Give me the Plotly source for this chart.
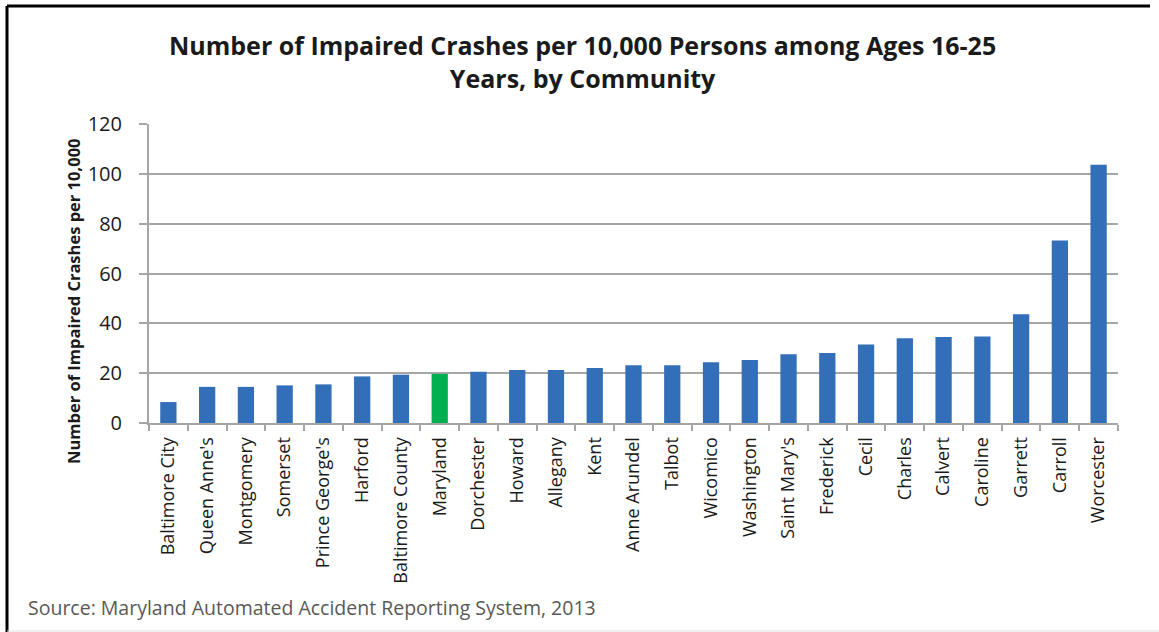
import plotly.graph_objects as go

# Impaired crashes per 10,000 persons aged 16-25, by community (2013)
communities = [
    "Baltimore City", "Queen Anne's", "Montgomery", "Somerset", "Prince George's",
    "Harford", "Baltimore County", "Maryland", "Dorchester", "Howard", "Allegany",
    "Kent", "Anne Arundel", "Talbot", "Wicomico", "Washington", "Saint Mary's",
    "Frederick", "Cecil", "Charles", "Calvert", "Caroline", "Garrett", "Carroll",
    "Worcester",
]
rates = [
    8.4, 14.5, 14.5, 15.1, 15.5,
    18.7, 19.4, 19.7, 20.6, 21.3, 21.3,
    22.1, 23.2, 23.2, 24.4, 25.3, 27.6,
    28.1, 31.5, 34.0, 34.5, 34.7, 43.6, 73.2,
    103.6,
]
y_ticks = [0, 20, 40, 60, 80, 100, 120]
title_lines = [
    "Number of Impaired Crashes per 10,000 Persons among Ages 16-25",
    "Years, by Community",
]

state_name = "Maryland"
bar_colors = ["#00B050" if c == state_name else "#336EB8" for c in communities]

FONT = "Open Sans"
W, H = 1159, 632
L, R, T, B = 149, 41, 124, 209
pw, ph = W - L - R, H - T - B


def px_x(px):
    return (px - L) / pw


def px_y(py):
    return (H - B - py) / ph


fig = go.Figure(
    go.Bar(
        x=communities,
        y=rates,
        marker=dict(color=bar_colors, line=dict(width=0)),
        width=0.42,
    )
)

fig.update_layout(
    width=W,
    height=H,
    margin=dict(l=L, r=R, t=T, b=B),
    paper_bgcolor="white",
    plot_bgcolor="white",
    showlegend=False,
    font=dict(family=FONT, color="#1a1a1a"),
)

fig.update_xaxes(
    type="category",
    tickangle=-90,
    tickfont=dict(family=FONT, size=18, color="#1a1a1a"),
    showline=True,
    linecolor="#A6A6A6",
    linewidth=2,
    ticks="outside",
    tickson="boundaries",
    ticklen=6,
    tickcolor="#A6A6A6",
    tickwidth=2,
    ticklabelstandoff=5,
    showgrid=False,
    range=[-0.5, len(communities) - 0.5],
)

fig.update_yaxes(
    range=[0, 120],
    tickvals=y_ticks,
    tickfont=dict(family=FONT, size=20, color="#1a1a1a"),
    showline=True,
    linecolor="#A6A6A6",
    linewidth=2,
    ticks="outside",
    ticklen=8,
    tickcolor="#A6A6A6",
    tickwidth=2,
    ticklabelstandoff=13,
    showgrid=True,
    gridcolor="#A6A6A6",
    gridwidth=2,
    zeroline=False,
)

# Two-line chart title
fig.add_annotation(
    text="<b>" + "<br>".join(title_lines) + "</b>",
    xref="paper", yref="paper",
    x=px_x(W / 2 + 3), y=px_y(62),
    xanchor="center", yanchor="middle",
    showarrow=False,
    font=dict(family=FONT, size=25, color="#1a1a1a"),
)

# Y-axis title, placed as a rotated annotation
fig.add_annotation(
    text="<b>Number of Impaired Crashes per 10,000</b>",
    xref="paper", yref="paper",
    x=px_x(73), y=px_y(301),
    xanchor="center", yanchor="middle",
    textangle=-90,
    showarrow=False,
    font=dict(family=FONT, size=16.5, color="#1a1a1a"),
)

# Source note
fig.add_annotation(
    text="Source: Maryland Automated Accident Reporting System, 2013",
    xref="paper", yref="paper",
    x=px_x(26), y=px_y(607),
    xanchor="left", yanchor="middle",
    showarrow=False,
    font=dict(family=FONT, size=19.5, color="#595959"),
)

# Frame lines around the chart area
frame = dict(color="black", width=3)
fig.add_shape(type="line", xref="paper", yref="paper",
              x0=px_x(7), x1=px_x(1150), y0=px_y(6), y1=px_y(6), line=frame)
fig.add_shape(type="line", xref="paper", yref="paper",
              x0=px_x(7), x1=px_x(7), y0=px_y(6), y1=px_y(632), line=frame)
fig.add_shape(type="line", xref="paper", yref="paper",
              x0=px_x(7), x1=px_x(1159), y0=px_y(631), y1=px_y(631),
              line=dict(color="#E0E0E0", width=1))

fig.write_html("out.html")
